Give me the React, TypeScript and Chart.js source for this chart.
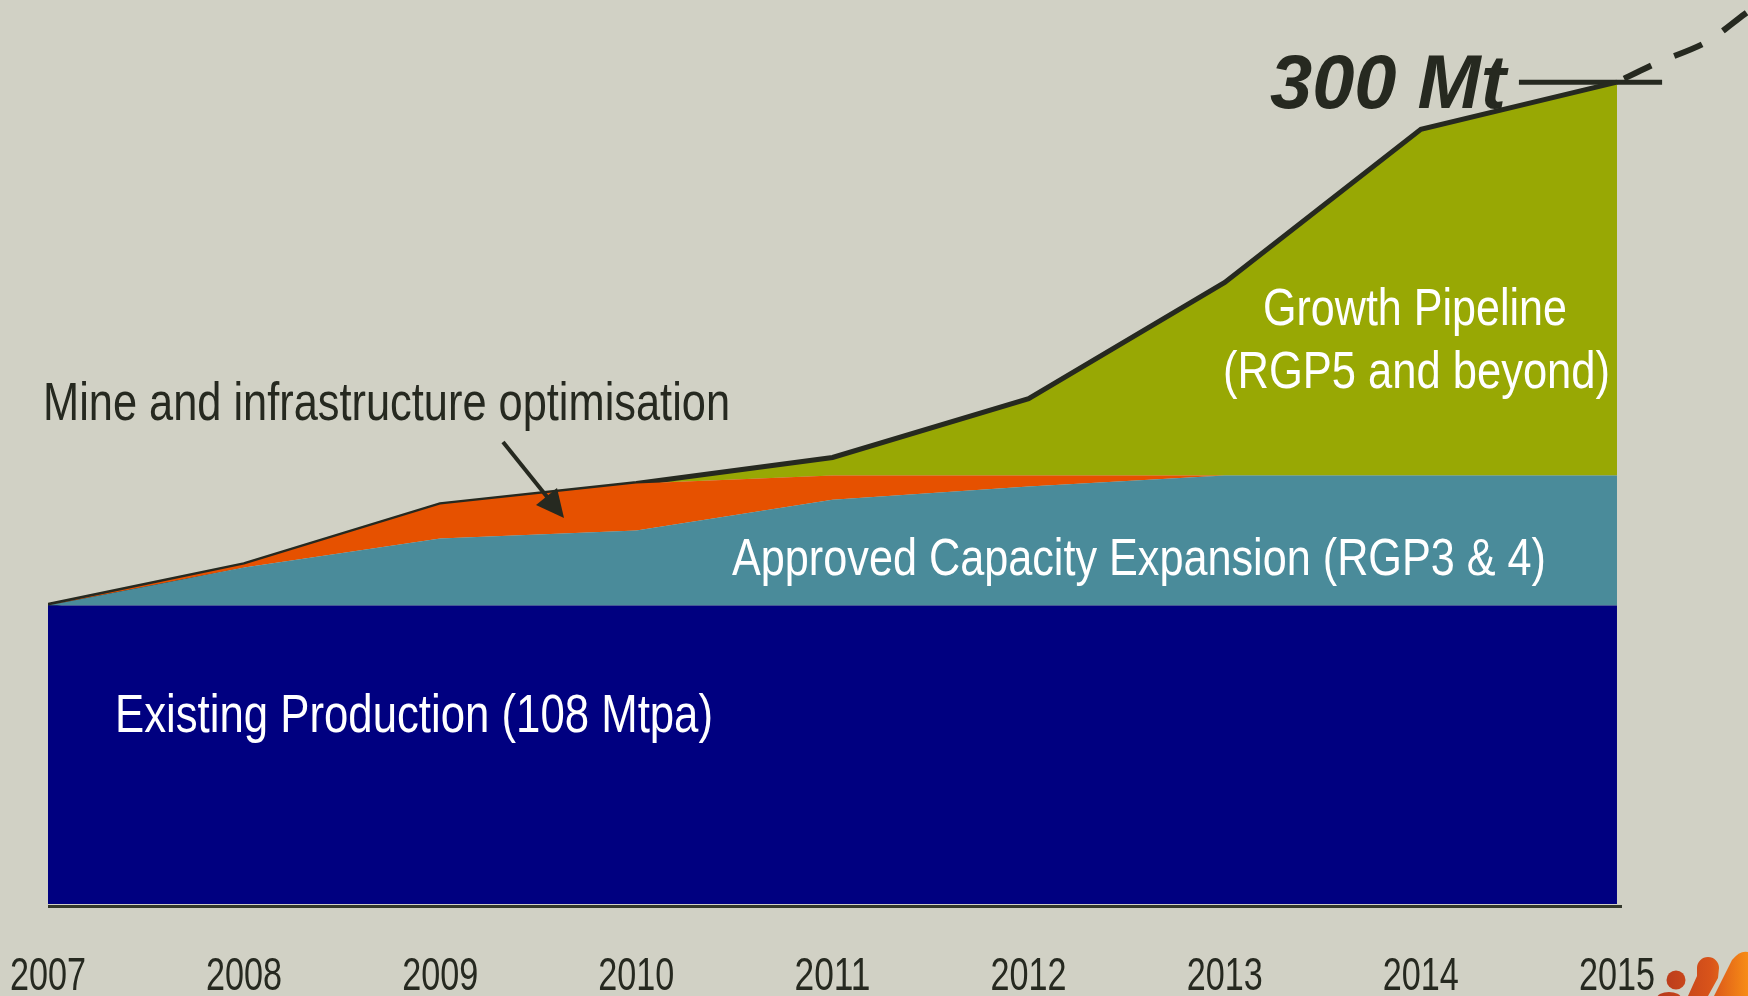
import React, { useEffect, useRef } from 'react';
import { Chart, registerables } from 'chart.js';

Chart.register(...registerables);

// ---- data (Mt) ----
const years = [2007, 2008, 2009, 2010, 2011, 2012, 2013, 2014, 2015];
const existingProduction = [109, 109, 109, 109, 109, 109, 109, 109, 109];
const approvedExpansion = [0, 13.8, 24.4, 27.3, 38.6, 43.4, 47.4, 47.4, 47.4];
const mineOptimisation = [0, 1.1, 12.4, 17.2, 8.8, 4.0, 0, 0, 0];
const growthPipeline = [0, 0, 0, 0, 6.6, 28.1, 70.5, 126.4, 143.6];
const outlookX = [2015, 2015.19, 2015.455, 2015.65, 2015.75];
const outlookY = [300, 306.6, 314.6, 324.8, 330];
const targetX = [2014.5, 2015.23];
const targetY = [300, 300];

const BG = '#d1d1c5';
const DARK = '#262920';
const SANS = "'Liberation Sans', Arial, sans-serif";

function pts(xs: number[], ys: number[]) {
  return xs.map((x, i) => ({ x, y: ys[i] }));
}

function fitText(
  ctx: CanvasRenderingContext2D,
  text: string,
  x: number,
  baseline: number,
  width: number,
  font: string,
  color: string,
  center = false
) {
  ctx.save();
  ctx.font = font;
  ctx.fillStyle = color;
  ctx.textBaseline = 'alphabetic';
  ctx.textAlign = 'left';
  const w = ctx.measureText(text).width;
  const s = width / w;
  ctx.translate(center ? x - width / 2 : x, baseline);
  ctx.scale(s, 1);
  ctx.fillText(text, 0, 0);
  ctx.restore();
}

const annotations = {
  id: 'annotations',
  afterDatasetsDraw(chart: any) {
    const ctx: CanvasRenderingContext2D = chart.ctx;
    const xs = chart.scales.x;
    const area = chart.chartArea;

    // x axis line and year labels (from the scale's ticks)
    ctx.save();
    ctx.strokeStyle = '#33372b';
    ctx.lineWidth = 3;
    ctx.beginPath();
    ctx.moveTo(area.left, area.bottom + 2.5);
    ctx.lineTo(xs.getPixelForValue(years[years.length - 1]) + 5, area.bottom + 2.5);
    ctx.stroke();
    ctx.restore();
    xs.ticks
      .filter((t: any) => Number.isInteger(t.value) && t.value <= years[years.length - 1])
      .forEach((t: any) => {
        fitText(ctx, String(t.value), xs.getPixelForValue(t.value), 990, 76, `46px ${SANS}`, DARK, true);
      });

    fitText(ctx, 'Mine and infrastructure optimisation', 43, 420, 687, `53px ${SANS}`, DARK);
    fitText(ctx, 'Growth Pipeline', 1263, 325, 304, `52px ${SANS}`, '#ffffff');
    fitText(ctx, '(RGP5 and beyond)', 1223, 388, 387, `52px ${SANS}`, '#ffffff');
    fitText(ctx, 'Approved Capacity Expansion (RGP3 & 4)', 732, 575, 814, `52px ${SANS}`, '#ffffff');
    fitText(ctx, 'Existing Production (108 Mtpa)', 115, 732, 598, `53px ${SANS}`, '#ffffff');
    fitText(ctx, '300 Mt', 1270, 108, 236, `italic bold 76px ${SANS}`, DARK);

    // arrow
    ctx.save();
    ctx.strokeStyle = DARK;
    ctx.fillStyle = DARK;
    ctx.lineWidth = 4;
    ctx.beginPath();
    ctx.moveTo(503, 442);
    ctx.lineTo(548, 498);
    ctx.stroke();
    ctx.beginPath();
    ctx.moveTo(564, 518);
    ctx.lineTo(536, 505);
    ctx.lineTo(557, 488);
    ctx.closePath();
    ctx.fill();
    ctx.restore();

    // logo fragment
    ctx.save();
    const g = ctx.createLinearGradient(1655, 0, 1748, 0);
    g.addColorStop(0, '#b5371c');
    g.addColorStop(0.6, '#d9541a');
    g.addColorStop(1, '#f78c16');
    ctx.fillStyle = g;
    ctx.beginPath();
    ctx.arc(1676, 980, 9.5, 0, Math.PI * 2);
    ctx.fill();
    ctx.beginPath();
    ctx.ellipse(1669, 998, 12, 6, 0, 0, Math.PI * 2);
    ctx.fill();
    ctx.beginPath();
    ctx.arc(1708, 968, 11, Math.PI, Math.PI * 2);
    ctx.lineTo(1718, 978);
    ctx.lineTo(1708, 996);
    ctx.lineTo(1688, 996);
    ctx.lineTo(1697, 976);
    ctx.closePath();
    ctx.fill();
    ctx.beginPath();
    ctx.moveTo(1732, 960);
    ctx.quadraticCurveTo(1740, 950, 1748, 952);
    ctx.lineTo(1748, 996);
    ctx.lineTo(1714, 996);
    ctx.closePath();
    ctx.fill();
    ctx.restore();
  },
};

export default function App() {
  const ref = useRef<HTMLCanvasElement | null>(null);

  useEffect(() => {
    document.body.style.margin = '0';
    document.body.style.background = BG;
    const canvas = ref.current;
    if (!canvas) return;
    const area = (data: number[], color: string, fill: any, extra: any = {}) => ({
      data: pts(years, data),
      backgroundColor: color,
      borderWidth: 0,
      borderColor: color,
      pointRadius: 0,
      tension: 0,
      fill,
      stack: 'bands',
      ...extra,
    });
    const chart = new Chart(canvas, {
      type: 'line',
      data: {
        datasets: [
          area(existingProduction, '#000080', 'origin', { label: 'Existing Production' }),
          area(approvedExpansion, '#4a8b9a', '-1', { label: 'Approved Capacity Expansion' }),
          area(mineOptimisation, '#e65100', '-1', { label: 'Mine and infrastructure optimisation' }),
          area(growthPipeline, '#98a804', '-1', {
            label: 'Growth Pipeline',
            borderColor: DARK,
            borderWidth: 5,
            borderJoinStyle: 'miter',
          }),
          {
            label: 'Outlook',
            data: pts(outlookX, outlookY),
            borderColor: DARK,
            borderWidth: 6,
            borderDash: [30, 25],
            borderDashOffset: 47,
            pointRadius: 0,
            tension: 0.3,
            fill: false,
            clip: false,
            stack: 'outlook',
          } as any,
          {
            label: 'Target',
            data: pts(targetX, targetY),
            borderColor: DARK,
            borderWidth: 5,
            pointRadius: 0,
            fill: false,
            clip: false,
            stack: 'target',
          } as any,
        ],
      },
      options: {
        animation: false,
        responsive: false,
        maintainAspectRatio: false,
        layout: { padding: { left: 48, right: 0, top: 0, bottom: 92 } },
        plugins: { legend: { display: false }, tooltip: { enabled: false } },
        scales: {
          x: {
            type: 'linear',
            min: 2007,
            max: 2015.668,
            grid: { display: false, drawTicks: false },
            border: { display: false },
            ticks: {
              display: false,
              stepSize: 1,
              includeBounds: false,
              callback: (v: any) => String(v),
            },
          },
          y: {
            display: false,
            stacked: true,
            min: 0,
            max: 330,
          },
        },
      },
      plugins: [annotations],
    });
    return () => chart.destroy();
  }, []);

  return (
    <div style={{ position: 'fixed', left: 0, top: 0, width: 1748, height: 996, background: BG }}>
      <canvas ref={ref} width={1748} height={996} style={{ display: 'block', width: 1748, height: 996 }} />
    </div>
  );
}
